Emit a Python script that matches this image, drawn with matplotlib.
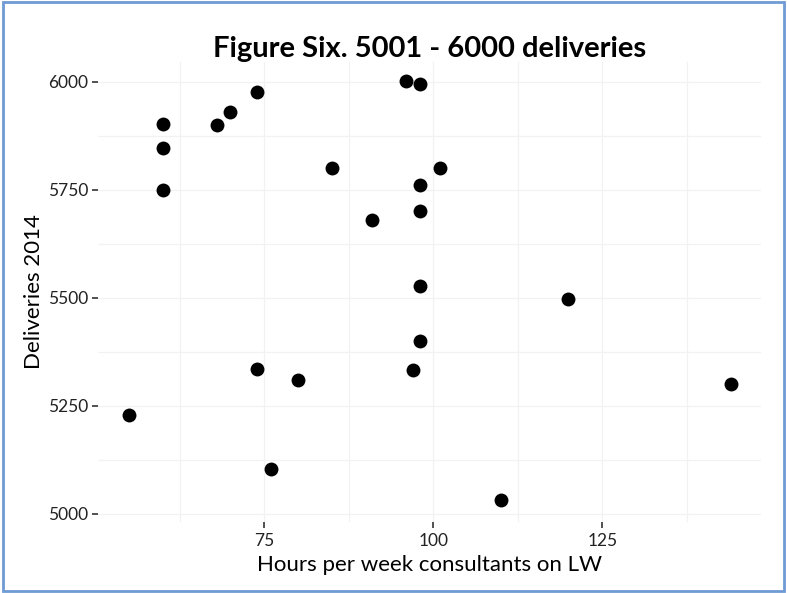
import matplotlib.pyplot as plt
from matplotlib.patches import Rectangle
from matplotlib.ticker import MultipleLocator

plt.rcParams["font.family"] = ["Lato", "DejaVu Sans"]

# Hours per week consultants on LW vs deliveries 2014
hours = [55, 60, 60, 60, 68, 70, 74, 85, 96, 98, 101, 98, 98, 91,
         98, 120, 98, 97, 74, 80, 76, 110, 144]
deliveries = [5228, 5903, 5848, 5750, 5900, 5931, 5977, 5800, 6001, 5994,
              5800, 5762, 5701, 5681, 5528, 5497, 5400, 5333, 5336, 5309,
              5103, 5032, 5300]

x_ticks = [75, 100, 125]
y_ticks = [5000, 5250, 5500, 5750, 6000]

fig = plt.figure(figsize=(7.87, 5.93), dpi=100)
ax = fig.add_axes([0.1245, 0.1197, 0.8425, 0.7757])

ax.scatter(hours, deliveries, s=100, color="black", zorder=3, linewidths=0)

ax.set_xlim(50.4, 148.5)
ax.set_ylim(4981, 6046)
ax.set_xticks(x_ticks)
ax.set_yticks(y_ticks)
ax.xaxis.set_minor_locator(MultipleLocator(12.5))
ax.yaxis.set_minor_locator(MultipleLocator(125))

ax.grid(True, which="both", color="#f2f2f2", linewidth=0.9)
ax.set_axisbelow(True)
for side in ax.spines.values():
    side.set_visible(False)

ax.tick_params(axis="both", which="major", length=4, width=1.2,
               color="#333333", labelsize=12.5, labelcolor="#222222", pad=3)
ax.tick_params(axis="x", which="major", pad=4)
ax.tick_params(axis="both", which="minor", length=0)

ax.set_xlabel("Hours per week consultants on LW", fontsize=16, labelpad=4)
ax.set_ylabel("Deliveries 2014", fontsize=16, labelpad=3)
ax.set_title("Figure Six. 5001 - 6000 deliveries", fontsize=21,
             fontweight="bold", pad=3)

# blue frame around the whole image
fig.patches.append(Rectangle((0.004, 0.004), 0.992, 0.992,
                             transform=fig.transFigure, fill=False,
                             edgecolor="#6f9ad4", linewidth=2))

fig.savefig("out.png", dpi=100)
